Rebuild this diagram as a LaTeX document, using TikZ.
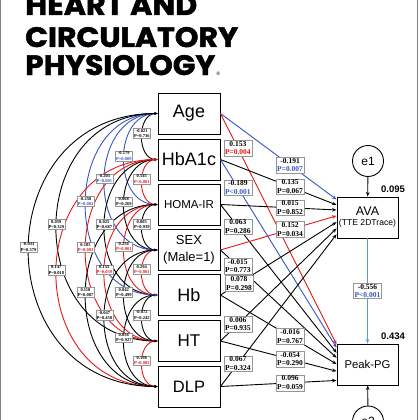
\documentclass[tikz,border=0pt]{standalone}
\usepackage{fontspec}
\setmainfont{Liberation Serif}
\setsansfont{Liberation Sans}
\newfontfamily\titlefont{Poppins}[BoldFeatures={FakeBold=1.6}]
\usetikzlibrary{arrows.meta,calc}

\definecolor{sigred}{RGB}{225,25,25}
\definecolor{sigblue}{RGB}{55,85,195}
\definecolor{lightpath}{RGB}{90,155,215}
\definecolor{lblframe}{RGB}{150,150,150}

\tikzset{
  var/.style={draw,line width=0.9pt,fill=white,minimum width=62pt,minimum height=41pt,inner sep=0pt,align=center},
  err/.style={draw,circle,line width=0.9pt,minimum size=31pt,inner sep=0pt,font=\sffamily\fontsize{12}{12}\selectfont},
  reg/.style={line width=0.9pt,-{Stealth[length=4.5pt,width=3.5pt]}},
  cov/.style={line width=0.9pt,{Stealth[length=3pt,width=2.5pt]}-{Stealth[length=3pt,width=2.5pt]}},
  coefbox/.style={draw=lblframe,fill=white,text=black,inner sep=1pt,align=center,font=\bfseries\fontsize{7.5}{8.6}\selectfont},
  corbox/.style={draw=lblframe,fill=white,text=black,inner sep=0.7pt,align=center,font=\bfseries\fontsize{4.5}{5.3}\selectfont},
  rsq/.style={inner sep=0pt,font=\sffamily\bfseries\fontsize{9.5}{10}\selectfont},
  titleline/.style={anchor=base west,inner sep=0pt,font=\titlefont\bfseries}
}
\def\sz#1{\sffamily\fontsize{#1}{\dimexpr#1pt*13/10\relax}\selectfont}
\def\ttl#1#2{\resizebox{#1pt}{20pt}{#2}}

% covariances: from/to/control/colour/coef/p/p-colour
\def\covlist{age/hba/21/black/-0.021/P=0.736/black,
  hba/homa/21/sigred/0.545/P<0.001/sigred,
  homa/sex/21/black/0.005/P=0.939/black,
  sex/hb/21/sigred/0.294/P=0.001/sigred,
  hb/ht/21/black/-0.072/P=0.242/black,
  ht/dlp/21/sigred/0.198/P=0.002/sigred,
  age/homa/45/sigblue/-0.179/P=0.009/sigblue,
  hba/sex/45/black/0.068/P=0.269/black,
  homa/hb/45/sigred/0.256/P=0.001/sigred,
  sex/ht/45/black/0.042/P=0.499/black,
  hb/dlp/45/black/0.056/P=0.927/black,
  age/sex/71/sigblue/-0.203/P=0.001/sigblue,
  hba/hb/71/black/0.025/P=0.687/black,
  homa/ht/71/sigred/0.155/P=0.039/sigred,
  sex/dlp/71/black/-0.047/P=0.458/black,
  age/hb/96/sigblue/-0.258/P=0.002/sigblue,
  hba/ht/96/sigred/0.185/P=0.003/sigred,
  homa/dlp/96/black/0.110/P=0.087/black,
  age/ht/135/black/0.059/P=0.329/black,
  hba/dlp/135/sigred/0.147/P=0.018/black,
  age/dlp/172/black/-0.033/P=0.579/black}

% paths: from/to/entry/colour/label pos/coef/p/p-colour
\def\reglist{age/ava/0.07/sigblue/0.6/-0.191/P=0.007/sigblue,
  age/ppg/0.02/sigred/0.15/0.153/P=0.004/sigred,
  hba/ava/0.2/black/0.6/0.135/P=0.067/black,
  hba/ppg/0.1/sigblue/0.15/-0.189/P<0.001/sigblue,
  homa/ava/0.32/black/0.6/0.015/P=0.852/black,
  homa/ppg/0.22/black/0.15/0.063/P=0.286/black,
  sex/ava/0.46/sigred/0.6/0.152/P=0.034/black,
  sex/ppg/0.34/black/0.15/-0.015/P=0.773/black,
  hb/ava/0.61/black/0.16/0.078/P=0.298/black,
  hb/ppg/0.49/black/0.6/-0.016/P=0.767/black,
  ht/ava/0.76/black/0.15/0.006/P=0.935/black,
  ht/ppg/0.66/black/0.6/-0.054/P=0.290/black,
  dlp/ava/0.9/black/0.15/0.067/P=0.324/black,
  dlp/ppg/0.88/black/0.6/0.096/P=0.059/black}

\begin{document}
\begin{tikzpicture}[x=1pt,y=-1pt]
  \useasboundingbox (0,0) rectangle (420,420);
  % Rand
  \draw[gray,line width=1.2pt] (0.8,0) -- (0.8,420);
  \draw[gray,line width=1pt] (417.5,0) -- (417.5,420);

  % Titel
  \node[titleline] (tia) at (25,15) {\ttl{172}{HEART AND}};
  \node[titleline] (tib) at (25,47) {\ttl{213}{CIRCULATORY}};
  \node[titleline] (tic) at (25,75) {\ttl{190}{PHYSIOLOGY}};
  \node[anchor=base west,inner sep=0pt,font=\sffamily\fontsize{5}{5}\selectfont] (tir) at ([xshift=1pt]tic.base east) {®};

  % Variablen
  \node[var,font=\sz{18}] (age) at (189,113.5) {Age};
  \node[var,font=\sz{18}] (hba) at (189,159.5) {HbA1c};
  \node[var,font=\sz{11.5}] (homa) at (189,204.5) {HOMA-IR};
  \node[var,font=\sffamily\fontsize{13}{17.5}\selectfont] (sex) at (189,250) {SEX\\(Male=1)};
  \node[var,font=\sz{18}] (hb) at (189,295) {Hb};
  \node[var,font=\sz{17}] (ht) at (189,341) {HT};
  \node[var,font=\sz{16.5}] (dlp) at (189,386.5) {DLP};

  \node[var,minimum width=61pt] (ava) at (367.5,217.5) {\sz{12.5}AVA\\[-2pt]\sz{8.6}(TTE 2DTrace)};
  \node[var,minimum width=61pt,font=\sz{11.3}] (ppg) at (367.5,364.5) {Peak-PG};
  \node[err] (e1) at (368,161) {e1};
  \node[err] (e2) at (368,421.5) {e2};
  \node[rsq] (rava) at (393,189) {0.095};
  \node[rsq] (rppg) at (393,336) {0.434};

  % Kovarianzen
  \foreach \src/\tgt/\cd/\col/\cf/\pv/\pc in \covlist {
    \draw[cov,\col] (\src.west) .. controls +(-\cd,0) and +(-\cd,0) .. (\tgt.west);
  }
  % Pfade
  \foreach \src/\tgt/\fr/\col/\ps/\cf/\pv/\pc in \reglist {
    \coordinate (in\src\tgt) at ($(\tgt.north west)!\fr!(\tgt.south west)$);
    \draw[reg,\col] (\src.east) -- (in\src\tgt);
  }
  \draw[reg] (e1) -- (ava);
  \draw[reg] (e2) -- (ppg);
  \draw[reg,lightpath] (ava) -- (ppg) node[coefbox,pos=0.5] (rap) {-0.556\\\textcolor{sigblue}{P<0.001}};

  % Beschriftungen
  \foreach \src/\tgt/\cd/\col/\cf/\pv/\pc in \covlist {
    \node[corbox] (c\src\tgt) at ($(\src.west)!0.5!(\tgt.west)+(-0.75*\cd,-3)$) {\cf\\\textcolor{\pc}{\pv}};
  }
  \foreach \src/\tgt/\fr/\col/\ps/\cf/\pv/\pc in \reglist {
    \node[coefbox] (r\src\tgt) at ($(\src.east)!\ps!(in\src\tgt)$) {\cf\\\textcolor{\pc}{\pv}};
  }
\end{tikzpicture}
\end{document}
